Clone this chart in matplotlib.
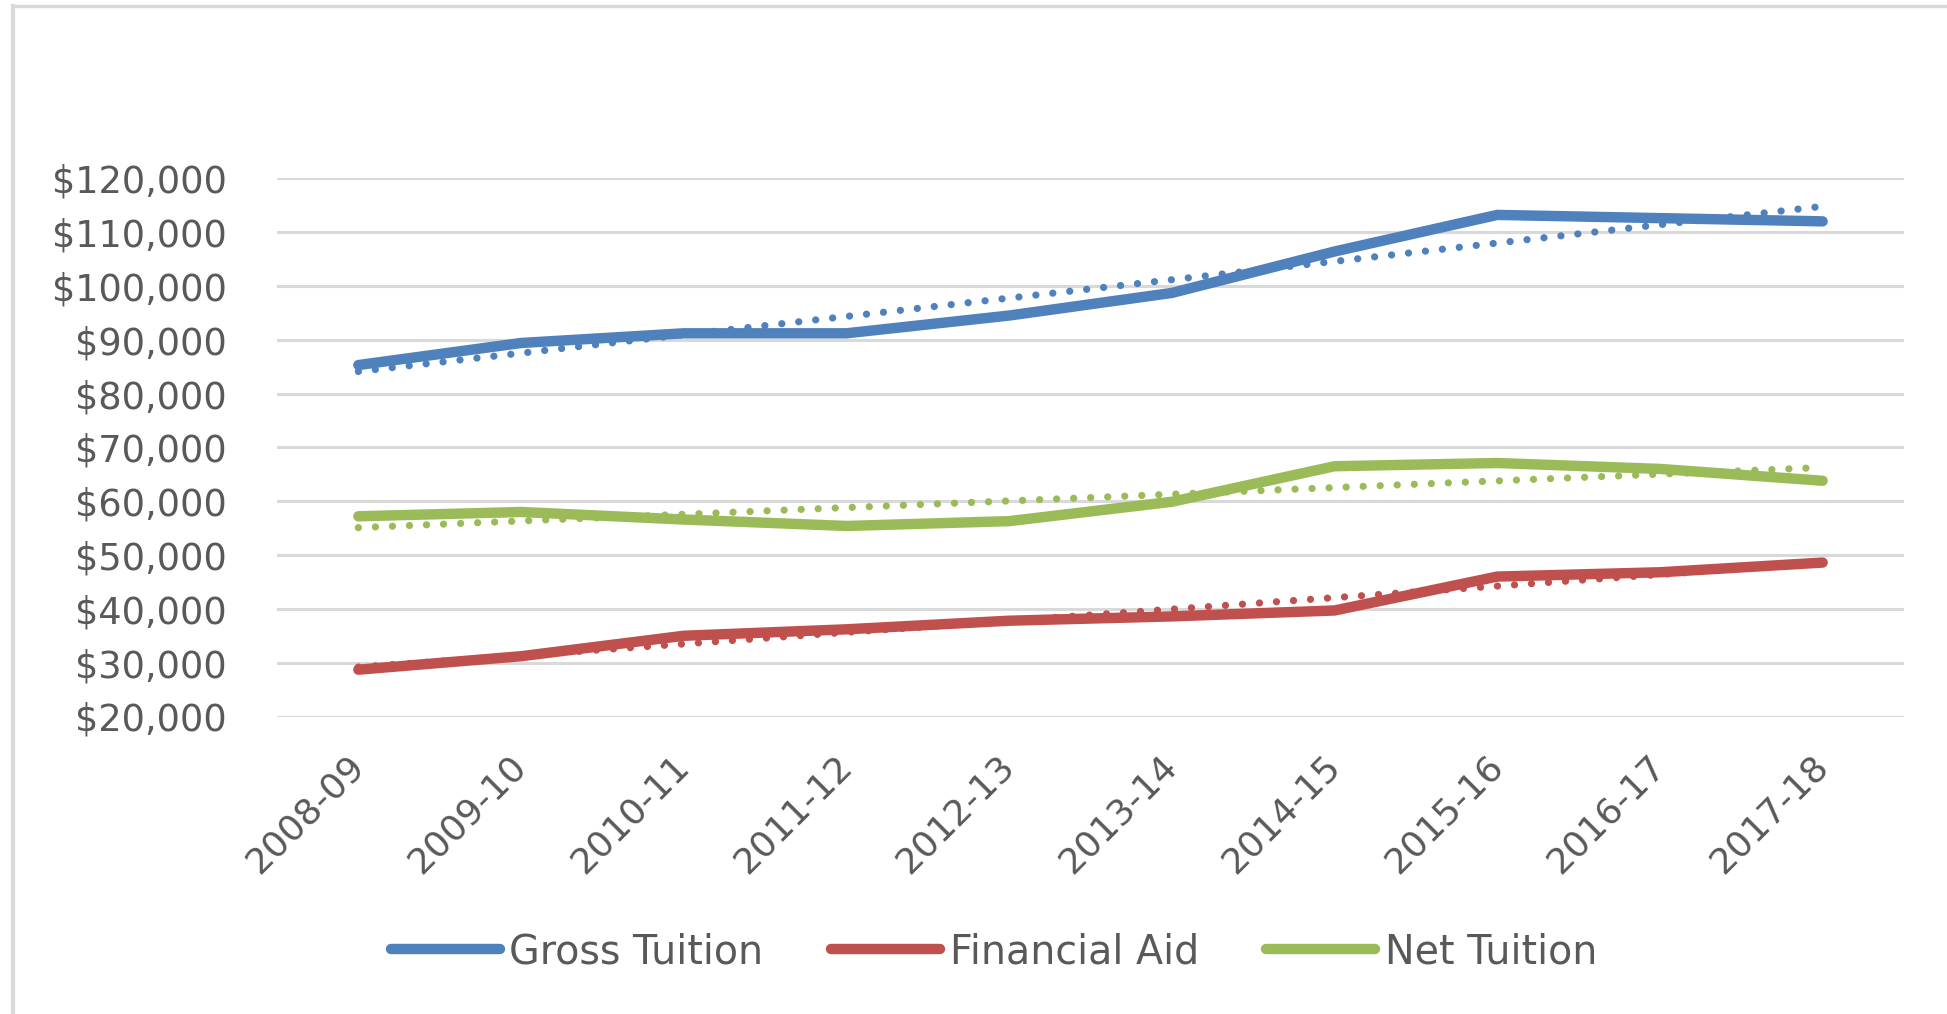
import numpy as np
import matplotlib
matplotlib.use("Agg")
import matplotlib.pyplot as plt
from matplotlib.lines import Line2D
from matplotlib.ticker import FuncFormatter, MultipleLocator
from matplotlib.transforms import ScaledTranslation

# ---- data ----
years = ["2008-09", "2009-10", "2010-11", "2011-12", "2012-13",
         "2013-14", "2014-15", "2015-16", "2016-17", "2017-18"]
gross_tuition = [85300, 89400, 91200, 91200, 94500, 98700, 106400, 113200, 112600, 112000]
financial_aid = [28700, 31200, 35000, 36200, 37800, 38600, 39700, 46000, 46800, 48600]
net_tuition = [57200, 58000, 56600, 55400, 56300, 59900, 66500, 67100, 66000, 63800]
series_names = ["Gross Tuition", "Financial Aid", "Net Tuition"]
series_colors = ["#4F81BD", "#C0504D", "#9BBB59"]

plt.rcParams['font.family'] = ['DejaVu Sans']
W, H = 1947, 1014
fig = plt.figure(figsize=(W / 100, H / 100), dpi=100)
fig.patch.set_facecolor("white")

# chart border (light gray, only left/top visible)
bx, by = 13 / W, 1 - 5.5 / H
fig.add_artist(Line2D([bx, bx], [0, by], transform=fig.transFigure, color="#D9D9D9", lw=3))
fig.add_artist(Line2D([bx, 1.0], [by, by], transform=fig.transFigure, color="#D9D9D9", lw=2.5))

left, right = 277 / W, 1904 / W
top, bottom = 1 - 178.3 / H, 1 - 716.5 / H
ax = fig.add_axes([left, bottom, right - left, top - bottom])

x = np.arange(len(years))
all_series = [gross_tuition, financial_aid, net_tuition]
handles = []
for vals, name, col in zip(all_series, series_names, series_colors):
    ln, = ax.plot(x, vals, color=col, lw=7.5, solid_capstyle="round",
                  solid_joinstyle="round", label=name, zorder=3)
    handles.append(ln)
    # linear trendline (as Excel draws it)
    coef = np.polyfit(x, vals, 1)
    ax.plot(x, np.polyval(coef, x), color=col, lw=5.2, linestyle=(0, (0.01, 2.35)),
            dash_capstyle="round", zorder=4)

ax.set_xlim(-0.5, len(years) - 0.5)
ax.set_ylim(20000, 120000)
ax.yaxis.set_major_locator(MultipleLocator(10000))
ax.yaxis.set_major_formatter(FuncFormatter(lambda v, p: "${:,.0f}".format(v)))
ax.set_xticks(x)
ax.set_xticklabels(years, rotation=45, ha="right", va="center", rotation_mode="anchor")
offset = ScaledTranslation(-3 / 100, 0, fig.dpi_scale_trans)
for lbl in ax.get_xticklabels():
    lbl.set_transform(lbl.get_transform() + offset)
ax.grid(axis="y", color="#D9D9D9", lw=2.2, zorder=0)
ax.set_axisbelow(True)
for s in ax.spines.values():
    s.set_visible(False)
ax.tick_params(axis="y", length=0, pad=36, labelsize=26.5, labelcolor="#595959")
ax.tick_params(axis="x", length=0, pad=32, labelsize=26, labelcolor="#595959")

fig.legend(handles=handles, labels=series_names, loc="center",
           bbox_to_anchor=(0.5105, 0.061), ncol=3, frameon=False,
           fontsize=28.5, handlelength=2.75, handletextpad=0.25,
           columnspacing=1.7, labelcolor="#595959")

fig.savefig("out.png", dpi=100, facecolor="white")
